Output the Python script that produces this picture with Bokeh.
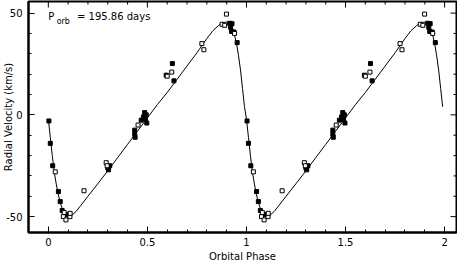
from bokeh.plotting import figure
from bokeh.models import Label, SingleIntervalTicker, CustomJSTickFormatter, Range1d
from bokeh.embed import file_html
from bokeh.resources import INLINE
import math

# Orbital solution curve (one cycle)
model_phase = [0.0, 0.01, 0.02, 0.03, 0.04, 0.05, 0.06, 0.07, 0.08, 0.09, 0.10, 0.11,
               0.12, 0.14, 0.16, 0.20, 0.25, 0.30, 0.35, 0.40, 0.45, 0.50, 0.55, 0.60,
               0.65, 0.70, 0.75, 0.775, 0.80, 0.83, 0.86, 0.88, 0.90, 0.92, 0.94, 0.95,
               0.96, 0.97, 0.98, 0.99]
model_rv = [-2, -11, -20, -28, -34, -39, -43, -46, -48, -49.3, -49.8, -49.8,
            -49.2, -47.5, -45, -40, -33.8, -27.5, -21, -14.5, -8, -1.5, 5, 11,
            17.5, 24, 30.5, 34, 37.5, 41.3, 44, 45.3, 45.6, 44.3, 39, 35,
            29, 22, 13, 4]

# Observations (open symbols)
open_phase = [0.035, 0.076, 0.080, 0.089, 0.109, 0.110, 0.180, 0.292, 0.297, 0.453,
              0.600, 0.623, 0.775, 0.785, 0.877, 0.890, 0.899, 0.940]
open_rv = [-28, -50, -48, -51.6, -50, -48.4, -37.3, -23.5, -25, -5,
           19, 21, 35, 32, 44.5, 44, 49.5, 40]

# Observations (filled symbols)
filled_phase = [0.003, 0.010, 0.022, 0.051, 0.060, 0.070, 0.094, 0.300, 0.304, 0.310,
                0.436, 0.436, 0.438, 0.469, 0.480, 0.486, 0.494, 0.497, 0.490,
                0.626, 0.595, 0.634, 0.915, 0.920, 0.925, 0.927, 0.937, 0.953]
filled_rv = [-3, -14, -25, -37.7, -42.6, -47, -49, -26, -27, -25,
             -7.5, -9.5, -11, -2.6, -1, 1.1, 0, -4, -2,
             25.2, 19.5, 16.7, 45, 43, 41, 44.8, 40.7, 35.5]

# Tick values
x_major_ticks = [0, 0.5, 1, 1.5, 2]
x_minor_ticks = [-0.1, 0.1, 0.2, 0.3, 0.4, 0.6, 0.7, 0.8, 0.9, 1.1, 1.2, 1.3, 1.4,
                 1.6, 1.7, 1.8, 1.9]
y_major_ticks = [-50, 0, 50]
y_minor_ticks = [-40, -30, -20, -10, 10, 20, 30, 40]


def two_cycles(ph):
    return list(ph) + [v + 1 for v in ph]


xr = Range1d(-0.1, 2.06)
yr = Range1d(-57.8, 55.7)
p = figure(width=457, height=264, output_backend="svg", toolbar_location=None,
           x_range=xr, y_range=yr,
           min_border_left=23, min_border_right=1, min_border_top=1, min_border_bottom=31)
p.background_fill_color = "white"
p.border_fill_color = "white"
p.outline_line_color = "black"
p.outline_line_width = 2
p.xgrid.visible = False
p.ygrid.visible = False

font = "DejaVu Sans"

p.line(two_cycles(model_phase), model_rv + model_rv, line_color="black", line_width=1)
p.scatter(two_cycles(filled_phase), filled_rv + filled_rv, marker="square", size=4,
          fill_color="black", line_color="black")
p.scatter(two_cycles(open_phase), open_rv + open_rv, marker="square", size=4,
          fill_color="white", line_color="black", line_width=1)

# mirrored inward ticks on top and right edges
p.ray(x=x_major_ticks, y=[yr.end] * len(x_major_ticks), length=6, length_units="screen",
      angle=-math.pi / 2, line_color="black", line_width=1)
p.ray(x=x_minor_ticks, y=[yr.end] * len(x_minor_ticks), length=3, length_units="screen",
      angle=-math.pi / 2, line_color="black", line_width=1)
p.ray(x=[xr.end] * len(y_major_ticks), y=y_major_ticks, length=6, length_units="screen",
      angle=math.pi, line_color="black", line_width=1)
p.ray(x=[xr.end] * len(y_minor_ticks), y=y_minor_ticks, length=3, length_units="screen",
      angle=math.pi, line_color="black", line_width=1)

fmt = CustomJSTickFormatter(code="return String(tick);")


def style_axis(ax, interval):
    ax.ticker = SingleIntervalTicker(interval=interval, num_minor_ticks=5)
    ax.axis_line_color = "black"
    ax.axis_line_width = 2
    ax.major_tick_in = 6
    ax.major_tick_out = 0
    ax.minor_tick_in = 3
    ax.minor_tick_out = 0
    ax.major_tick_line_color = "black"
    ax.minor_tick_line_color = "black"
    ax.major_tick_line_width = 1
    ax.minor_tick_line_width = 1
    ax.formatter = fmt
    ax.major_label_text_font = font
    ax.major_label_text_font_size = "10px"
    ax.major_label_text_color = "black"
    ax.axis_label_text_font = font
    ax.axis_label_text_font_size = "10px"
    ax.axis_label_text_font_style = "normal"
    ax.axis_label_text_color = "black"


style_axis(p.xaxis[0], 0.5)
style_axis(p.yaxis[0], 50)
p.xaxis[0].major_label_standoff = 5
p.xaxis[0].axis_label = "Orbital Phase"
p.xaxis[0].axis_label_standoff = 2
p.yaxis[0].major_label_standoff = 6
p.yaxis[0].axis_label = "Radial Velocity (km/s)"
p.yaxis[0].axis_label_standoff = -11

p.add_layout(Label(x=0.0, y=48.5, text="P", text_align="left", text_baseline="alphabetic",
                   text_font=font, text_font_size="10px", text_color="black"))
p.add_layout(Label(x=0.042, y=46.0, text="orb", text_align="left", text_baseline="alphabetic",
                   text_font=font, text_font_size="8px", text_color="black"))
p.add_layout(Label(x=0.145, y=48.5, text="= 195.86 days", text_align="left",
                   text_baseline="alphabetic", text_font=font, text_font_size="10px",
                   text_color="black"))

open("out.html", "w").write(file_html(p, INLINE))
